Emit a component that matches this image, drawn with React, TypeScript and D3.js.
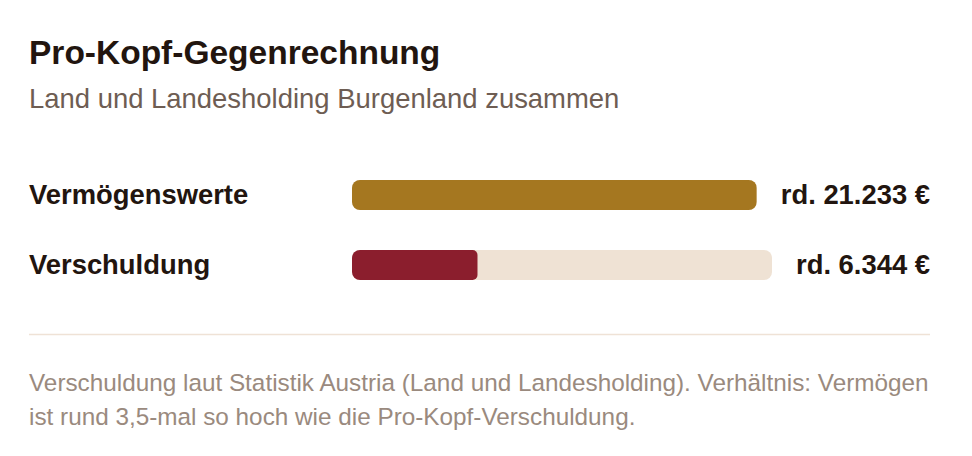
import React from "react";
import * as d3 from "d3";

const categories = ["Vermögenswerte", "Verschuldung"];
const values = [21233, 6344];
const valueLabels = ["rd. 21.233 €", "rd. 6.344 €"];
const fillColors = ["#A57720", "#8B1E2D"];

const title = "Pro-Kopf-Gegenrechnung";
const subtitle = "Land und Landesholding Burgenland zusammen";
const noteLines = [
  "Verschuldung laut Statistik Austria (Land und Landesholding). Verhältnis: Vermögen",
  "ist rund 3,5-mal so hoch wie die Pro-Kopf-Verschuldung.",
];

const FONT = "'Liberation Sans', Arial, Helvetica, sans-serif";
const W = 972;
const H = 456;
const LEFT = 29;
const RIGHT = 930;
const TRACK_X = 352;
const GAP = 24;
const BAR_H = 30;
const VAL_FONT_SIZE = 27.4;

function measure(text: string, font: string): number {
  const c = document.createElement("canvas");
  const ctx = c.getContext("2d");
  if (!ctx) return text.length * 14;
  ctx.font = font;
  return ctx.measureText(text).width;
}

export default function App() {
  const max = d3.max(values) as number;
  const rowY = d3
    .scalePoint<string>()
    .domain(categories)
    .range([180, 250]);

  return (
    <svg
      width={W}
      height={H}
      viewBox={`0 0 ${W} ${H}`}
      style={{ position: "absolute", left: 0, top: 0, background: "#ffffff" }}
      fontFamily={FONT}
    >
      <rect width={W} height={H} fill="#ffffff" />
      <text x={LEFT} y={64} fontSize={33.5} fontWeight="bold" fill="#22150f">
        {title}
      </text>
      <text x={LEFT} y={107.5} fontSize={27.45} fill="#6e5d53">
        {subtitle}
      </text>

      {categories.map((cat, i) => {
        const y = rowY(cat) as number;
        const vw = measure(valueLabels[i], `bold ${VAL_FONT_SIZE}px ${FONT}`);
        const trackEnd = RIGHT - vw - GAP;
        const x = d3
          .scaleLinear()
          .domain([0, max])
          .range([TRACK_X, trackEnd]);
        const clipId = `clip-${i}`;
        return (
          <g key={cat}>
            <text
              x={LEFT}
              y={y + 24}
              fontSize={27.4}
              fontWeight="bold"
              fill="#22150f"
            >
              {cat}
            </text>
            <defs>
              <clipPath id={clipId}>
                <rect
                  x={TRACK_X}
                  y={y}
                  width={trackEnd - TRACK_X}
                  height={BAR_H}
                  rx={8}
                />
              </clipPath>
            </defs>
            <rect
              x={TRACK_X}
              y={y}
              width={trackEnd - TRACK_X}
              height={BAR_H}
              rx={8}
              fill="#EFE2D4"
            />
            <g clipPath={`url(#${clipId})`}>
              <rect
                x={TRACK_X}
                y={y}
                width={x(values[i]) - TRACK_X}
                height={BAR_H}
                rx={5}
                fill={fillColors[i]}
              />
            </g>
            <text
              x={RIGHT}
              y={y + 24}
              fontSize={VAL_FONT_SIZE}
              fontWeight="bold"
              fill="#22150f"
              textAnchor="end"
            >
              {valueLabels[i]}
            </text>
          </g>
        );
      })}

      <line
        x1={LEFT}
        x2={RIGHT}
        y1={334.5}
        y2={334.5}
        stroke="#EFE2D6"
        strokeWidth={1.5}
      />
      {noteLines.map((line, i) => (
        <text
          key={i}
          x={LEFT}
          y={390.5 + i * 34.5}
          fontSize={24.3}
          fill="#9a8a7e"
        >
          {line}
        </text>
      ))}
    </svg>
  );
}
